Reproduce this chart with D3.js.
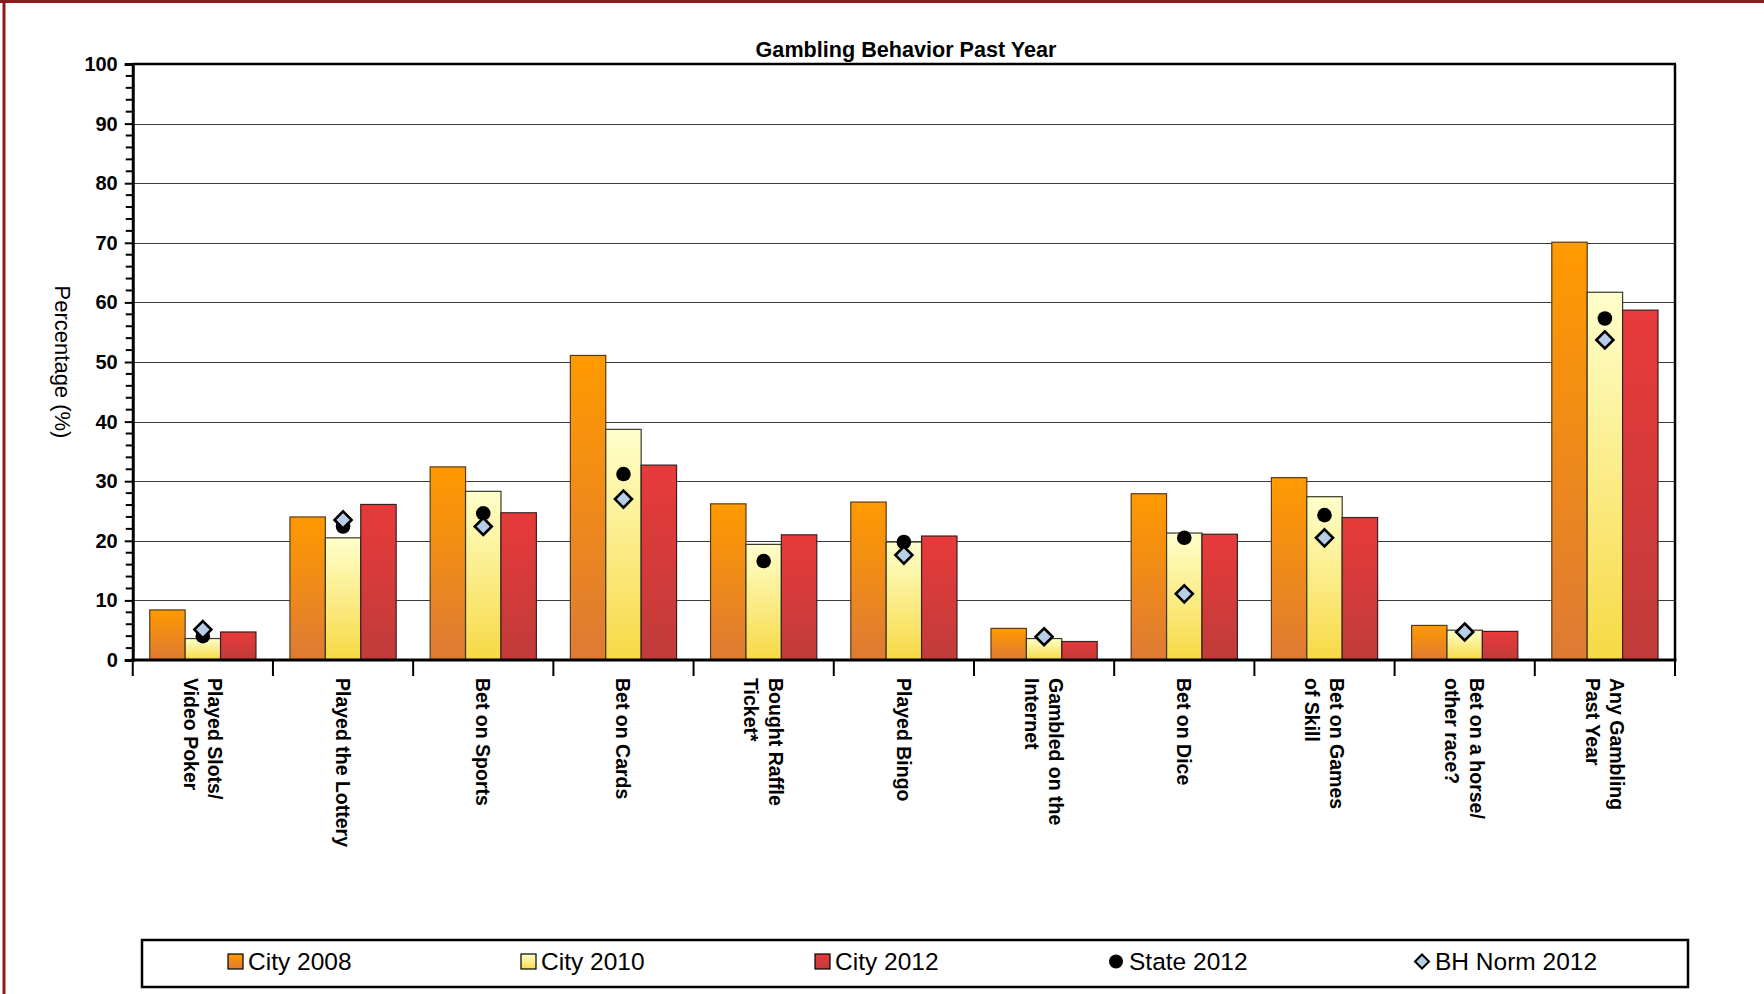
<!DOCTYPE html>
<html>
<head>
<meta charset="utf-8">
<script src="https://cdn.jsdelivr.net/npm/d3@7"></script>
<style>
html,body{margin:0;padding:0;background:#fff;}
svg{display:block;}
text{font-family:"Liberation Sans",Arial,Helvetica,sans-serif;}
</style>
</head>
<body>
<svg id="chart" width="1764" height="994"></svg>
<script>
const categories = [
  ["Played Slots/","Video Poker"],
  ["Played the Lottery"],
  ["Bet on Sports"],
  ["Bet on Cards"],
  ["Bought Raffle","Ticket*"],
  ["Played Bingo"],
  ["Gambled on the","Internet"],
  ["Bet on Dice"],
  ["Bet on Games","of Skill"],
  ["Bet on a horse/","other race?"],
  ["Any Gambling","Past Year"]
];
const city2008 = [8.4, 24.0, 32.4, 51.1, 26.2, 26.5, 5.3, 27.9, 30.6, 5.8, 70.1];
const city2010 = [3.6, 20.5, 28.3, 38.7, 19.4, 19.8, 3.6, 21.3, 27.4, 5.0, 61.7];
const city2012 = [4.7, 26.1, 24.7, 32.7, 21.0, 20.8, 3.1, 21.1, 23.9, 4.8, 58.7];
const state2012 = [4.0, 22.4, 24.6, 31.2, 16.6, 19.8, null, 20.5, 24.3, null, 57.3];
const bhNorm2012 = [5.1, 23.5, 22.4, 27.0, null, 17.6, 3.9, 11.1, 20.5, 4.7, 53.7];
const barSeries = ["City 2008","City 2010","City 2012"];
const yTicks = [0,10,20,30,40,50,60,70,80,90,100];
const title = "Gambling Behavior Past Year";
const yTitle = "Percentage (%)";

const svg = d3.select("#chart");
const W = 1764, H = 994;
const L = 132.75, R = 1675, T = 64, B = 660;

// outer frame (dark red)
svg.append("line").attr("x1",4).attr("x2",4).attr("y1",0).attr("y2",H)
  .attr("stroke","#8b1a1a").attr("stroke-width",3);
svg.append("line").attr("x1",0).attr("x2",W).attr("y1",1.5).attr("y2",1.5)
  .attr("stroke","#8b1a1a").attr("stroke-width",3);

// gradients
const defs = svg.append("defs");
const grads = [
  {id:"g0", top:"#ff9a00", bottom:"#de7a34", stroke:"#5a3a1a"},
  {id:"g1", top:"#ffffcc", bottom:"#f7d944", stroke:"#3a3a2a"},
  {id:"g2", top:"#e83a3a", bottom:"#c03c3a", stroke:"#3a2020"}
];
grads.forEach(g=>{
  const lg = defs.append("linearGradient").attr("id",g.id)
    .attr("x1",0).attr("y1",0).attr("x2",0).attr("y2",1);
  lg.append("stop").attr("offset","0%").attr("stop-color",g.top);
  lg.append("stop").attr("offset","100%").attr("stop-color",g.bottom);
});

const x = d3.scaleBand().domain(d3.range(categories.length)).range([L,R]).padding(0);
const gw = x.bandwidth();
const pad = 17;
const xs = d3.scaleBand().domain(d3.range(3)).range([pad, gw-pad]).padding(0);
const y = d3.scaleLinear().domain([0,100]).range([B,T]);

// gridlines
svg.append("g").selectAll("line").data(yTicks.filter(d=>d>0 && d<100)).join("line")
  .attr("x1",L).attr("x2",R).attr("y1",d=>Math.round(y(d))+0.5).attr("y2",d=>Math.round(y(d))+0.5)
  .attr("stroke","#3a3a3a").attr("stroke-width",1.2);

// bars
const seriesVals = [city2008, city2010, city2012];
seriesVals.forEach((vals,si)=>{
  svg.append("g").selectAll("rect").data(vals).join("rect")
    .attr("x",(d,i)=>x(i)+xs(si))
    .attr("width",xs.bandwidth())
    .attr("y",d=>y(d))
    .attr("height",d=>y(0)-y(d))
    .attr("fill",`url(#${grads[si].id})`)
    .attr("stroke",grads[si].stroke).attr("stroke-width",1.2);
});

// markers
const mx = i => x(i) + xs(1) + xs.bandwidth()/2;
svg.append("g").selectAll("circle").data(state2012.map((v,i)=>({v,i})).filter(d=>d.v!=null)).join("circle")
  .attr("cx",d=>mx(d.i)).attr("cy",d=>y(d.v)).attr("r",7.3).attr("fill","#000");
const dsz = 8.5;
svg.append("g").selectAll("path").data(bhNorm2012.map((v,i)=>({v,i})).filter(d=>d.v!=null)).join("path")
  .attr("d",d=>{const cx=mx(d.i), cy=y(d.v);return `M${cx},${cy-dsz}L${cx+dsz},${cy}L${cx},${cy+dsz}L${cx-dsz},${cy}Z`;})
  .attr("fill","#b8cde6").attr("stroke","#000").attr("stroke-width",2.6);

// plot frame top/right
svg.append("line").attr("x1",L).attr("x2",R+1).attr("y1",T).attr("y2",T).attr("stroke","#000").attr("stroke-width",2.5);
svg.append("line").attr("x1",R).attr("x2",R).attr("y1",T).attr("y2",B).attr("stroke","#000").attr("stroke-width",2.5);

// y axis
const yAxis = d3.axisLeft(y).tickValues(yTicks).tickSize(8).tickPadding(7);
const gy = svg.append("g").attr("transform",`translate(${L},0)`).call(yAxis);
gy.select(".domain").attr("stroke","#000").attr("stroke-width",3);
gy.selectAll(".tick line").attr("stroke","#000").attr("stroke-width",2);
gy.selectAll(".tick text").attr("font-size",20).attr("font-weight","bold").attr("fill","#000")
  .attr("font-family","'Liberation Sans',Arial,sans-serif");
const minor = d3.range(0,101,2).filter(d=>d%10!==0);
svg.append("g").selectAll("line").data(minor).join("line")
  .attr("x1",L-7).attr("x2",L).attr("y1",d=>y(d)).attr("y2",d=>y(d))
  .attr("stroke","#000").attr("stroke-width",2);

// x axis
svg.append("line").attr("x1",L-1.5).attr("x2",R+1.5).attr("y1",B).attr("y2",B).attr("stroke","#000").attr("stroke-width",3);
const bounds = d3.range(categories.length+1).map(i=> i<categories.length ? x(i) : R);
svg.append("g").selectAll("line").data(bounds).join("line")
  .attr("x1",d=>d).attr("x2",d=>d).attr("y1",B).attr("y2",B+16)
  .attr("stroke","#000").attr("stroke-width",2);

// category labels
const lh = 24.5;
categories.forEach((lines,i)=>{
  const cx = x(i)+gw/2;
  const t = svg.append("text").attr("transform",`translate(${cx},${B+18}) rotate(90)`)
    .attr("font-size",19.5).attr("font-weight","bold").attr("fill","#000");
  const n = lines.length;
  lines.forEach((ln,j)=>{
    t.append("tspan").attr("x",0).attr("y",(j-(n-1)/2)*lh).attr("dominant-baseline","central").text(ln);
  });
});

// title
svg.append("text").attr("x",906).attr("y",57).attr("text-anchor","middle")
  .attr("font-size",21.6).attr("font-weight","bold").attr("fill","#000").text(title);

// y title
svg.append("text").attr("transform",`translate(62,362) rotate(90)`).attr("text-anchor","middle")
  .attr("dominant-baseline","central").attr("font-size",22).attr("fill","#000").text(yTitle);

// legend
const lgX = 142, lgY = 940, lgW = 1546, lgH = 47;
svg.append("rect").attr("x",lgX).attr("y",lgY).attr("width",lgW).attr("height",lgH)
  .attr("fill","#fff").attr("stroke","#000").attr("stroke-width",2.5);
const legendItems = [
  {label:barSeries[0], type:"bar", g:0, x:228},
  {label:barSeries[1], type:"bar", g:1, x:521},
  {label:barSeries[2], type:"bar", g:2, x:815},
  {label:"State 2012", type:"dot", x:1109},
  {label:"BH Norm 2012", type:"dia", x:1415}
];
const lcy = lgY + lgH/2 - 2;
legendItems.forEach(it=>{
  if(it.type==="bar"){
    svg.append("rect").attr("x",it.x).attr("y",lcy-7.5).attr("width",15).attr("height",15)
      .attr("fill",`url(#${grads[it.g].id})`).attr("stroke","#000").attr("stroke-width",1.2);
  } else if(it.type==="dot"){
    svg.append("circle").attr("cx",it.x+7).attr("cy",lcy).attr("r",7).attr("fill","#000");
  } else {
    const cx=it.x+7, s=7;
    svg.append("path").attr("d",`M${cx},${lcy-s}L${cx+s},${lcy}L${cx},${lcy+s}L${cx-s},${lcy}Z`)
      .attr("fill","#b8cde6").attr("stroke","#000").attr("stroke-width",2);
  }
  svg.append("text").attr("x",it.x+20).attr("y",lcy).attr("dominant-baseline","central")
    .attr("font-size",24.5).attr("fill","#000").text(it.label);
});
</script>
</body>
</html>
